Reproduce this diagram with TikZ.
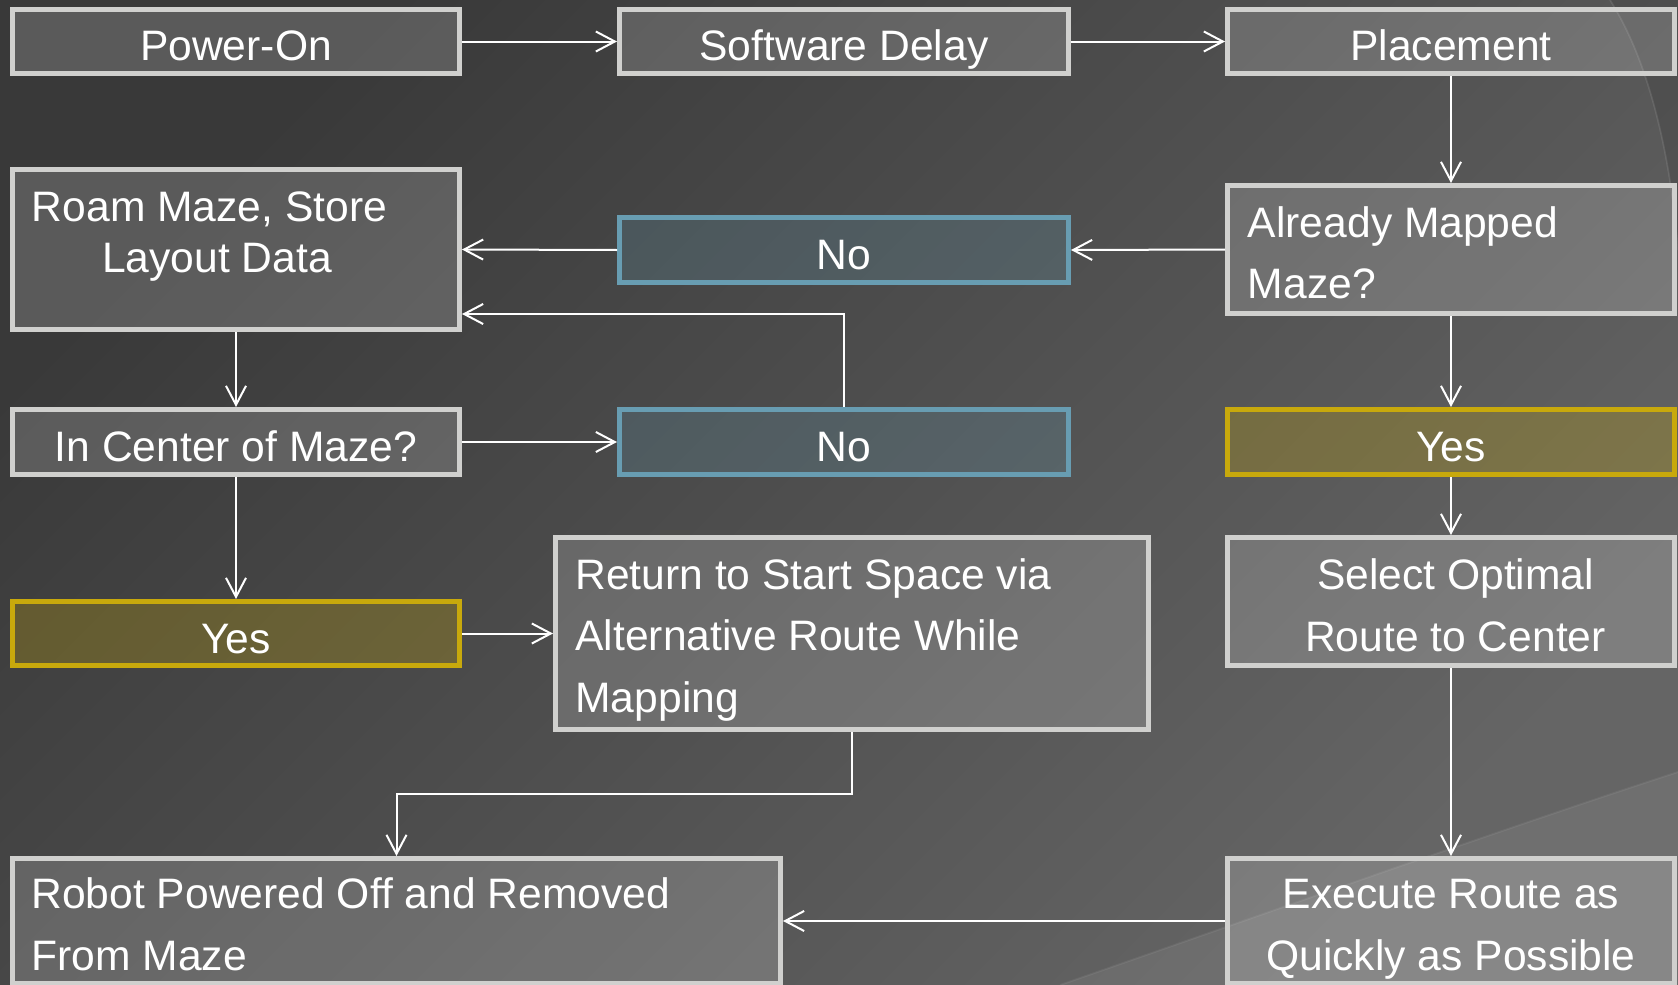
\documentclass[tikz,border=0pt]{standalone}
\usepackage{fontspec}
\setmainfont{Liberation Sans}
\usetikzlibrary{arrows.meta}

\definecolor{bgdark}{HTML}{393939}
\definecolor{bglight}{HTML}{656565}
\definecolor{boxline}{HTML}{D0D0CE}
\definecolor{noline}{HTML}{689DB2}
\definecolor{yesline}{HTML}{C8A90C}

\tikzset{
  stepbox/.style={draw=boxline, line width=2.5pt, fill=white, fill opacity=0.17,
    text opacity=1, text=white, inner sep=0pt},
  nobox/.style={stepbox, draw=noline, fill=noline, fill opacity=0.22},
  yesbox/.style={stepbox, draw=yesline, fill=yesline, fill opacity=0.27},
  flow/.style={draw=white, line width=1pt,
    -{Straight Barb[length=9.5pt,width=10pt,line width=1pt]}},
}

% #1 name, #2 style, #3-#6 outer corners (px), #7 paragraph setup,
% #8 first baseline below the top edge, #9 text
\newcommand\flowbox[9]{%
  \pgfmathsetmacro\fbw{(#5-#3-5)*0.5}%
  \pgfmathsetmacro\fbh{(#6-#4-5)*0.5}%
  \node[#2] (#1) at ({(#3+#5)/2},{(#4+#6)/2})
    {\parbox[c][\fbh pt][t]{\fbw pt}{#7\rule{0pt}{#8}#9}};%
}

\begin{document}
\begin{tikzpicture}[x=0.5pt, y=-0.5pt, font=\fontsize{21.3}{31}\selectfont]
\useasboundingbox (0,0) rectangle (1678,985);

% backdrop
\shade[top color=bgdark, bottom color=bglight, shading angle=45] (0,0) rectangle (1678,985);
\fill[white, fill opacity=0.07] (1060,985) .. controls (1290,905) and (1500,830) .. (1678,772) -- (1678,985) -- cycle;
\draw[white, opacity=0.06, line width=1pt] (1060,985) .. controls (1290,905) and (1500,830) .. (1678,772);
\fill[black, fill opacity=0.10] (1610,0) .. controls (1648,60) and (1670,150) .. (1678,250) -- (1678,0) -- cycle;
\draw[white, opacity=0.10, line width=0.8pt] (1610,0) .. controls (1648,60) and (1670,150) .. (1678,250);

% steps
\flowbox{poweron}{stepbox}{10}{7}{462}{76}{\centering}{25.75pt}{Power-On}
\flowbox{delay}{stepbox}{617}{7}{1071}{76}{\centering}{25.75pt}{Software Delay}
\flowbox{placement}{stepbox}{1225}{7}{1677}{76}{\centering}{25.75pt}{Placement}
\flowbox{roam}{stepbox}{10}{167}{462}{332}{\fontsize{21.3}{25.75}\selectfont\centering\rightskip=19pt plus 1fil}{25.75pt}{Roam Maze, Store\kern7.5pt\\Layout Data}
\flowbox{notop}{nobox}{617}{215}{1071}{285}{\centering}{25.75pt}{No}
\flowbox{mapped}{stepbox}{1225}{183}{1677}{316}{\fontsize{21.3}{30.5}\selectfont\raggedright\leftskip=10.2pt}{25.75pt}{Already Mapped\\Maze?}
\flowbox{center}{stepbox}{10}{407}{462}{477}{\centering}{25.75pt}{In Center of Maze?}
\flowbox{nobot}{nobox}{617}{407}{1071}{477}{\centering}{25.75pt}{No}
\flowbox{yesright}{yesbox}{1225}{407}{1677}{477}{\centering}{25.75pt}{Yes}
\flowbox{yesleft}{yesbox}{10}{599}{462}{668}{\centering}{25.75pt}{Yes}
\flowbox{return}{stepbox}{553}{535}{1151}{732}{\fontsize{21.3}{30.75}\selectfont\raggedright\leftskip=10pt}{25.75pt}{Return to Start Space via\\Alternative Route While\\Mapping}
\flowbox{select}{stepbox}{1225}{535}{1677}{668}{\centering\leftskip=4.5pt plus 1fil}{25.75pt}{Select Optimal\\Route to Center}
\flowbox{robot}{stepbox}{10}{856}{783}{986}{\raggedright\leftskip=9.5pt}{24.75pt}{Robot Powered Off and Removed\\From Maze}
\flowbox{execute}{stepbox}{1225}{856}{1677}{986}{\centering}{24.75pt}{Execute Route as\\Quickly as Possible}

% bend points
\coordinate (loopback) at (0,314);
\coordinate (turn) at (0,794);

% connectors
\draw[flow] (poweron.east) -- (delay.west);
\draw[flow] (delay.east) -- (placement.west);
\draw[flow] (placement.south) -- (mapped.north);
\draw[flow] (mapped.west) -- (notop.east);
\draw[flow] (notop.west) -- (roam.east);
\draw[flow] (nobot.north) |- (roam.east |- loopback);
\draw[flow] (roam.south) -- (center.north);
\draw[flow] (center.east) -- (nobot.west);
\draw[flow] (mapped.south) -- (yesright.north);
\draw[flow] (center.south) -- (yesleft.north);
\draw[flow] (yesright.south) -- (select.north);
\draw[flow] (yesleft.east) -- (return.west);
\draw[flow] (return.south) -- (return.south |- turn) -| (robot.north);
\draw[flow] (select.south) -- (execute.north);
\draw[flow] (execute.west) -- (robot.east);
\end{tikzpicture}
\end{document}
